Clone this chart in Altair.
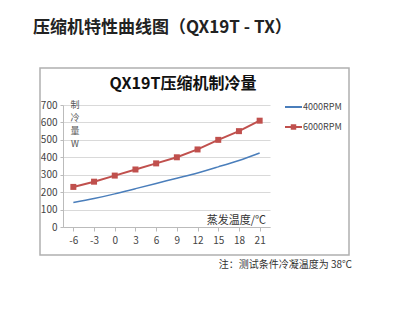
import altair as alt
import pandas as pd

temps = [-6, -3, 0, 3, 6, 9, 12, 15, 18, 21]
rpm4000 = [140, 163, 190, 220, 250, 280, 310, 345, 382, 425]
rpm6000 = [230, 260, 295, 330, 365, 400, 445, 500, 550, 610]
y_ticks = [0, 100, 200, 300, 400, 500, 600, 700]

df = pd.DataFrame({
    "t": [str(t) for t in temps] * 2,
    "v": rpm4000 + rpm6000,
    "s": ["4000RPM"] * len(temps) + ["6000RPM"] * len(temps),
})
order = [str(t) for t in temps]

W, H = 207, 122
FONT = "Noto Sans CJK SC"

x_enc = alt.X("t:O", sort=order, scale=alt.Scale(domain=order, paddingOuter=0.5, paddingInner=0),
              axis=alt.Axis(title=None, labelAngle=0, labelFont=FONT, labelFontSize=10, labelColor="#444",
                            domainColor="#bbb", tickColor="#bbb", labelPadding=4, tickSize=4))
y_enc = alt.Y("v:Q", scale=alt.Scale(domain=[0, 700], nice=False),
              axis=alt.Axis(title=None, values=y_ticks, labelFont=FONT, labelFontSize=10, labelColor="#444",
                            gridColor="#d9d9d9", domainColor="#bbb", tickColor="#bbb", tickSize=3, labelPadding=3))

base = alt.Chart(df)
blue = base.transform_filter(alt.datum.s == "4000RPM").mark_line(
    color="#4A7EBB", strokeWidth=1.5, interpolate="monotone").encode(x=x_enc, y=y_enc)
red = base.transform_filter(alt.datum.s == "6000RPM").mark_line(
    color="#C0504D", strokeWidth=2).encode(x=x_enc, y=y_enc)
redpts = base.transform_filter(alt.datum.s == "6000RPM").mark_square(
    color="#C0504D", size=36, opacity=1).encode(x=x_enc, y=y_enc)

one = pd.DataFrame({"a": [0]})
def txt(text, x, y, size, weight="normal", align="left", color="#222", baseline="middle", font=FONT):
    return alt.Chart(one).mark_text(text=text, fontSize=size, fontWeight=weight, align=align,
                                    baseline=baseline, color=color, font=font).encode(
        x=alt.value(x), y=alt.value(y))

box = alt.Chart(one).mark_rect(fill="transparent", stroke="#b0b0b0", strokeWidth=1.5).encode(
    x=alt.value(-23), x2=alt.value(286), y=alt.value(-37), y2=alt.value(150))

title_main = txt("压缩机特性曲线图（QX19T - TX）", -30, -77, 17, "bold", color="#222")
title_chart = txt("QX19T压缩机制冷量", 120, -21, 16, "bold", align="center", color="#111")
ylabs = [txt(c, 12, 0 + i * 13, 9, align="center", color="#555") for i, c in enumerate(["制", "冷", "量", "W"])]
xlab = txt("蒸发温度/℃", 203, 116, 11, align="right", color="#333")
note = txt("注：测试条件冷凝温度为 38℃", 289, 160, 10, align="right", color="#333")

leg1 = alt.Chart(one).mark_rule(color="#4A7EBB", strokeWidth=2).encode(
    x=alt.value(222), x2=alt.value(239), y=alt.value(2))
leg2 = alt.Chart(one).mark_rule(color="#C0504D", strokeWidth=2).encode(
    x=alt.value(222), x2=alt.value(239), y=alt.value(22))
leg2pt = alt.Chart(one).mark_square(color="#C0504D", size=30, opacity=1).encode(
    x=alt.value(230.5), y=alt.value(22))
legt1 = txt("4000RPM", 240, 2, 9, color="#444")
legt2 = txt("6000RPM", 240, 22, 9, color="#444")

chart = alt.layer(
    box, blue, red, redpts, title_main, title_chart, *ylabs, xlab, note,
    leg1, leg2, leg2pt, legt1, legt2
).properties(
    width=W, height=H,
    autosize=alt.AutoSizeParams(type="none"),
    padding={"left": 63, "top": 105, "right": 130, "bottom": 92},
    background="white",
).configure_view(stroke=None)

chart.save("out.html", embed_options={"renderer": "svg", "actions": False})
